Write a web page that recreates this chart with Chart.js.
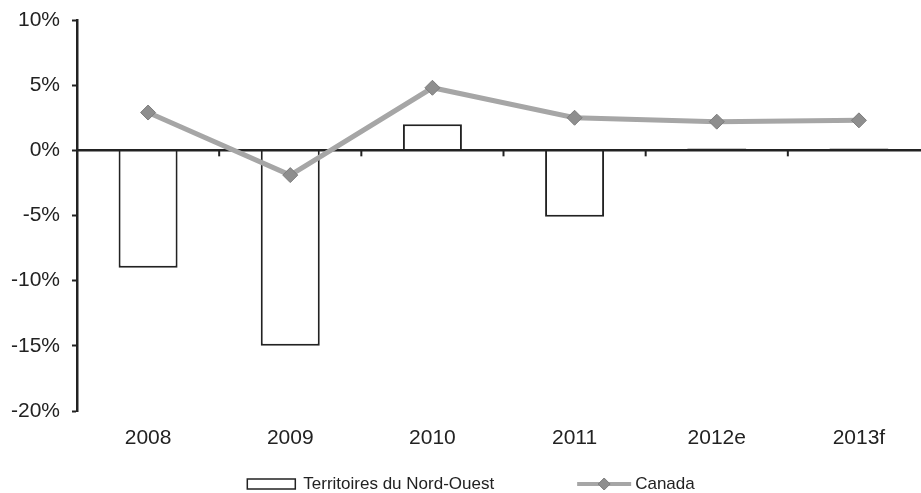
<!DOCTYPE html>
<html>
<head>
<meta charset="utf-8">
<script src="https://cdn.jsdelivr.net/npm/chart.js@4.4.1/dist/chart.umd.min.js"></script>
<style>
html, body { margin: 0; padding: 0; background: #fff; overflow: hidden; }
#wrap { width: 940px; height: 493px; }
</style>
</head>
<body>
<div id="wrap"><canvas id="myChart"></canvas></div>
<script>
// data (% growth)
var years = ['2008', '2009', '2010', '2011', '2012e', '2013f'];
var nwtGrowth = [-9.0, -15.0, 2.0, -5.1, 0.15, 0.15];
var canadaGrowth = [2.9, -1.9, 4.8, 2.5, 2.2, 2.3];
var yTicks = [-20, -15, -10, -5, 0, 5, 10];
var seriesNames = ['Territoires du Nord-Ouest', 'Canada'];

var fontFamily = '"Liberation Sans", Arial, Helvetica, sans-serif';
var ink = '#222';
var lineGray = '#a6a6a6';
var markerGray = '#8e8e8e';

function drawDiamond(c, x, y, r) {
  c.beginPath();
  c.moveTo(x, y - r);
  c.lineTo(x + r, y);
  c.lineTo(x, y + r);
  c.lineTo(x - r, y);
  c.closePath();
  c.fillStyle = markerGray;
  c.fill();
  c.strokeStyle = '#7c7c7c';
  c.lineWidth = 1;
  c.stroke();
}

// zero line over the bars, plus small tick marks between categories
const zeroAxis = {
  id: 'zeroAxis',
  afterDatasetDraw(chart, args) {
    if (args.index !== 1) return;
    const c = chart.ctx;
    const xs = chart.scales.x, ys = chart.scales.y;
    const y0 = ys.getPixelForValue(0);
    c.save();
    c.strokeStyle = ink;
    c.lineWidth = 2.5;
    c.beginPath();
    c.moveTo(chart.chartArea.left, y0);
    c.lineTo(chart.chartArea.right, y0);
    c.stroke();
    c.lineWidth = 2;
    for (let i = 1; i < years.length; i++) {
      const bx = (xs.getPixelForValue(i - 1) + xs.getPixelForValue(i)) / 2;
      c.beginPath();
      c.moveTo(bx, y0);
      c.lineTo(bx, y0 + 6);
      c.stroke();
    }
    c.restore();
  }
};

// legend like the original: box, then line with diamond
const bottomLegend = {
  id: 'bottomLegend',
  afterDraw(chart) {
    const c = chart.ctx;
    c.save();
    c.font = '17px ' + fontFamily;
    c.textBaseline = 'middle';
    const w1 = c.measureText(seriesNames[0]).width;
    const w2 = c.measureText(seriesNames[1]).width;
    const total = 48 + 8 + w1 + 83 + 54 + 4 + w2;
    let x = 471 - total / 2;
    const y = 484;
    c.fillStyle = '#fff';
    c.fillRect(x, y - 5, 48, 10);
    c.strokeStyle = ink;
    c.lineWidth = 1.5;
    c.strokeRect(x, y - 5, 48, 10);
    x += 56;
    c.fillStyle = ink;
    c.fillText(seriesNames[0], x, y);
    x += w1 + 83;
    c.strokeStyle = lineGray;
    c.lineWidth = 4;
    c.beginPath();
    c.moveTo(x, y);
    c.lineTo(x + 54, y);
    c.stroke();
    drawDiamond(c, x + 27, y, 6);
    x += 58;
    c.fillStyle = ink;
    c.fillText(seriesNames[1], x, y);
    c.restore();
  }
};

var ctx = document.getElementById('myChart').getContext('2d');
var chart = new Chart(ctx, {
  type: 'bar',
  data: {
    labels: years,
    datasets: [
      {
        type: 'line',
        label: seriesNames[1],
        data: canadaGrowth,
        order: 0,
        borderColor: lineGray,
        borderWidth: 5,
        tension: 0,
        pointStyle: 'rectRot',
        pointRadius: 7.5,
        pointBackgroundColor: markerGray,
        pointBorderColor: '#7c7c7c',
        pointBorderWidth: 1
      },
      {
        label: seriesNames[0],
        data: nwtGrowth,
        order: 1,
        backgroundColor: '#fff',
        borderColor: ink,
        borderWidth: 2,
        barPercentage: 0.415,
        categoryPercentage: 1
      }
    ]
  },
  options: {
    responsive: true,
    maintainAspectRatio: false,
    animation: false,
    devicePixelRatio: 1,
    layout: { padding: { top: 20, right: 10, bottom: 0, left: 0 } },
    plugins: {
      legend: { display: false },
      tooltip: { enabled: false }
    },
    scales: {
      x: {
        grid: { display: false, drawTicks: false },
        border: { display: false },
        ticks: {
          color: ink,
          font: { family: fontFamily, size: 21 },
          padding: 15,
          maxRotation: 0
        },
        afterFit: function (scale) { scale.height = 82; }
      },
      y: {
        min: yTicks[0],
        max: yTicks[yTicks.length - 1],
        border: { display: true, color: ink, width: 2.5 },
        grid: {
          color: 'rgba(0,0,0,0)',
          tickColor: ink,
          tickLength: 5,
          tickWidth: 2
        },
        ticks: {
          stepSize: 5,
          color: ink,
          font: { family: fontFamily, size: 21 },
          padding: 12,
          callback: function (v) { return v + '%'; }
        },
        afterFit: function (scale) {
          scale.width = 77;
          scale.paddingTop = 0;
          scale.paddingBottom = 0;
        }
      }
    }
  },
  plugins: [zeroAxis, bottomLegend]
});
</script>
</body>
</html>
